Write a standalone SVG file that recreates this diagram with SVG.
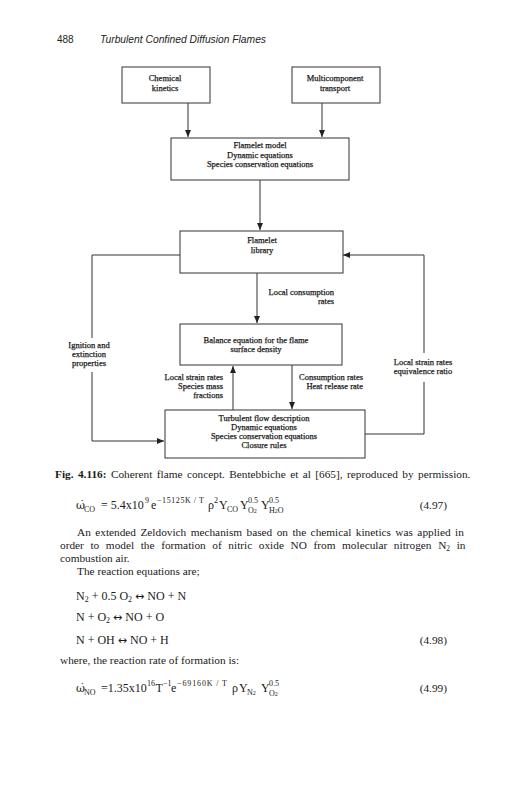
<svg xmlns="http://www.w3.org/2000/svg" width="531" height="800" viewBox="0 0 531 800">
<style>
.bg{fill:#fff}
.box{fill:#fff;stroke:#333;stroke-width:1}
.c{fill:none;stroke:#333;stroke-width:1}
.t{font-family:"Liberation Serif",serif;font-size:8.5px;fill:#1a1a1a;stroke:#1a1a1a;stroke-width:0.25}
.m{text-anchor:middle}
.e{text-anchor:end}
.hd{font-family:"Liberation Sans",sans-serif;font-size:10px;fill:#222}
.b{font-family:"Liberation Serif",serif;font-size:11.3px;fill:#1a1a1a}
.q{font-family:"Liberation Serif",serif;font-size:12px;fill:#1a1a1a}
.w{font-family:"DejaVu Serif",serif;font-size:11px;fill:#1a1a1a}
.s{font-family:"Liberation Serif",serif;font-size:8px;fill:#1a1a1a}
.ss{font-size:6px}
.ar{font-family:"DejaVu Sans",sans-serif;font-size:11px}
</style>
<defs>
<marker id="ah" viewBox="0 0 7 6" refX="7" refY="3" markerWidth="7" markerHeight="6" markerUnits="userSpaceOnUse" orient="auto">
<path d="M0,0 L7,3 L0,6 z" fill="#222"/>
</marker>
</defs>
<rect class="bg" x="0" y="0" width="531" height="800"/>

<g id="header">
<text class="hd" x="57" y="43">488</text>
<text class="hd" x="100" y="43" font-style="italic" textLength="166" lengthAdjust="spacingAndGlyphs">Turbulent Confined Diffusion Flames</text>
</g>

<g id="connectors">
<path class="c" d="M188,103 V137" marker-end="url(#ah)"/>
<path class="c" d="M322,103 V137" marker-end="url(#ah)"/>
<path class="c" d="M260,180 V230" marker-end="url(#ah)"/>
<path class="c" d="M257,273 V323" marker-end="url(#ah)"/>
<path class="c" d="M180,255 H92 V338"/>
<path class="c" d="M92,372 V441 H164" marker-end="url(#ah)"/>
<path class="c" d="M365,434 H424 V382"/>
<path class="c" d="M424,353 V255 H343" marker-end="url(#ah)"/>
<path class="c" d="M233,410 V366" marker-end="url(#ah)"/>
<path class="c" d="M292,365 V409" marker-end="url(#ah)"/>
</g>

<g id="chemical">
<rect class="box" x="122" y="67" width="88" height="36"/>
<text class="t m" x="165" y="81">Chemical</text>
<text class="t m" x="165" y="91">kinetics</text>
</g>
<g id="multicomponent">
<rect class="box" x="292" y="67" width="88" height="36"/>
<text class="t m" x="335" y="81">Multicomponent</text>
<text class="t m" x="335" y="91">transport</text>
</g>
<g id="flamelet-model">
<rect class="box" x="171" y="138" width="178" height="42"/>
<text class="t m" x="260" y="148">Flamelet model</text>
<text class="t m" x="260" y="158">Dynamic equations</text>
<text class="t m" x="260" y="167">Species conservation equations</text>
</g>
<g id="flamelet-library">
<rect class="box" x="180" y="231" width="163" height="42"/>
<text class="t m" x="262" y="243">Flamelet</text>
<text class="t m" x="262" y="253">library</text>
</g>
<g id="label-consumption">
<text class="t e" x="334" y="295">Local consumption</text>
<text class="t e" x="334" y="304">rates</text>
</g>
<g id="balance">
<rect class="box" x="180" y="324" width="162" height="41"/>
<text class="t m" x="256" y="343">Balance equation for the flame</text>
<text class="t m" x="256" y="352">surface density</text>
</g>
<g id="label-ignition">
<text class="t m" x="89" y="348">Ignition and</text>
<text class="t m" x="89" y="357">extinction</text>
<text class="t m" x="89" y="366">properties</text>
</g>
<g id="label-strain-right">
<text class="t m" x="423" y="365">Local strain rates</text>
<text class="t m" x="423" y="374">equivalence ratio</text>
</g>
<g id="label-strain-left">
<text class="t e" x="223" y="380">Local strain rates</text>
<text class="t e" x="223" y="389">Species mass</text>
<text class="t e" x="223" y="398">fractions</text>
</g>
<g id="label-heat">
<text class="t e" x="363" y="380">Consumption rates</text>
<text class="t e" x="363" y="389">Heat release rate</text>
</g>
<g id="turbulent">
<rect class="box" x="165" y="410" width="200" height="48"/>
<text class="t m" x="264" y="421">Turbulent flow description</text>
<text class="t m" x="264" y="430">Dynamic equations</text>
<text class="t m" x="264" y="439">Species conservation equations</text>
<text class="t m" x="264" y="448">Closure rules</text>
</g>

<g id="caption">
<text class="b" x="55" y="478" font-size="10.8" word-spacing="1.6"><tspan font-weight="bold">Fig. 4.116:</tspan> Coherent flame concept. Bentebbiche et al [665], reproduced by permission.</text>
</g>

<g id="eq497">
<text class="w" x="76" y="509">ω̇</text>
<text class="s" x="84" y="512">CO</text>
<text class="q" x="101" y="509">= 5.4x10</text>
<text class="s" x="145" y="503">9</text>
<text class="q" x="151" y="509">e</text>
<text class="s" x="157" y="503" textLength="47" lengthAdjust="spacing">−15125K / T</text>
<text class="q" x="208" y="509">ρ</text>
<text class="s" x="214" y="503">2</text>
<text class="q" x="219" y="509">Y</text>
<text class="s" x="227" y="512">CO</text>
<text class="q" x="240" y="509">Y</text>
<text class="s" x="248" y="503">0.5</text>
<text class="s" x="248" y="513">O<tspan class="ss">2</tspan></text>
<text class="q" x="261" y="509">Y</text>
<text class="s" x="269" y="503">0.5</text>
<text class="s" x="269" y="513">H<tspan class="ss">2</tspan>O</text>
<text class="b" x="447" y="509" text-anchor="end">(4.97)</text>
</g>

<g id="body">
<text class="b" x="77" y="536" word-spacing="1.6">An extended Zeldovich mechanism based on the chemical kinetics was applied in</text>
<text class="b" x="60" y="549" word-spacing="3.8">order to model the formation of nitric oxide NO from molecular nitrogen N<tspan font-size="7.5" dy="2">2</tspan><tspan dy="-2"> in</tspan></text>
<text class="b" x="60" y="562">combustion air.</text>
<text class="b" x="77" y="575">The reaction equations are;</text>
<text class="q" x="76" y="600">N<tspan font-size="8" dy="2">2</tspan><tspan dy="-2"> + 0.5 O</tspan><tspan font-size="8" dy="2">2</tspan><tspan dy="-2"> </tspan><tspan class="ar">↔</tspan><tspan> NO + N</tspan></text>
<text class="q" x="76" y="621">N + O<tspan font-size="8" dy="2">2</tspan><tspan dy="-2"> </tspan><tspan class="ar">↔</tspan><tspan> NO + O</tspan></text>
<text class="q" x="76" y="644">N + OH <tspan class="ar">↔</tspan> NO + H</text>
<text class="b" x="447" y="644" text-anchor="end">(4.98)</text>
<text class="b" x="60" y="664">where, the reaction rate of formation is:</text>
</g>

<g id="eq499">
<text class="w" x="76" y="692">ω̇</text>
<text class="s" x="84" y="695">NO</text>
<text class="q" x="101" y="692">=1.35x10</text>
<text class="s" x="147" y="686">16</text>
<text class="q" x="155.5" y="692">T</text>
<text class="s" x="163" y="686">−1</text>
<text class="q" x="171" y="692">e</text>
<text class="s" x="177" y="686" textLength="50" lengthAdjust="spacing">−69160K / T</text>
<text class="q" x="232" y="692">ρ</text>
<text class="q" x="239" y="692">Y</text>
<text class="s" x="247" y="695">N<tspan class="ss">2</tspan></text>
<text class="q" x="261" y="692">Y</text>
<text class="s" x="269" y="686">0.5</text>
<text class="s" x="269" y="696">O<tspan class="ss">2</tspan></text>
<text class="b" x="447" y="692" text-anchor="end">(4.99)</text>
</g>
</svg>
